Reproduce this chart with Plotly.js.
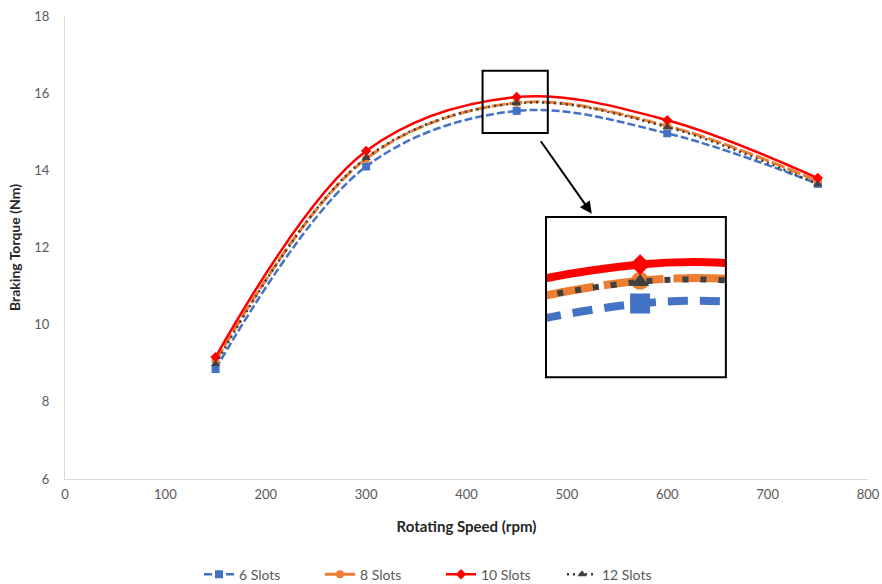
<!DOCTYPE html>
<html>
<head>
<meta charset="utf-8">
<script src="https://cdn.plot.ly/plotly-3.0.1.min.js"></script>
<style>html,body{margin:0;padding:0;background:#fff;}#chart{width:882px;height:584px;}</style>
</head>
<body>
<div id="chart"></div>
<script>
var speeds = [150, 300, 450, 600, 750];
var slots6  = [8.85, 14.10, 15.54, 14.96, 13.65];
var slots8  = [9.05, 14.30, 15.75, 15.15, 13.72];
var slots10 = [9.16, 14.50, 15.90, 15.30, 13.80];
var slots12 = [8.98, 14.32, 15.74, 15.12, 13.64];
var seriesNames = ['6 Slots', '8 Slots', '10 Slots', '12 Slots'];
var xTicks = [0, 100, 200, 300, 400, 500, 600, 700, 800];
var yTicks = [6, 8, 10, 12, 14, 16, 18];
var zoomBox = {x: [416, 481], y: [14.97, 16.58]};
var insetRange = {x: [416, 481], y: [14.86, 16.34]};

var styles = [
  {color:'#4472C4', dash:'8px,3px', w:2.5, sym:'square', ms:8, dashI:'20px,12px', wI:8, msI:20},
  {color:'#ED7D31', dash:'14px,3px', w:3, sym:'circle', ms:8, dashI:'60px,10px', wI:8, msI:18},
  {color:'#FF0000', dash:'solid', w:2.5, sym:'diamond', ms:8, dashI:'solid', wI:8, msI:16},
  {color:'#404040', dash:'2px,4px', w:2.5, sym:'triangle-up', ms:8, dashI:'6px,12px', wI:6, msI:16}
];
var data = [slots6, slots8, slots10, slots12];
var traces = [];
data.forEach(function(vals, i){
  var s = styles[i];
  traces.push({x: speeds, y: vals, name: seriesNames[i], type:'scatter', mode:'lines+markers',
    line:{color:s.color, width:s.w, dash:s.dash, shape:'spline', smoothing:1},
    marker:{symbol:s.sym, size:s.ms, color:s.color}});
});
data.forEach(function(vals, i){
  var s = styles[i];
  traces.push({x: speeds, y: vals, name: seriesNames[i], type:'scatter', mode:'lines+markers',
    xaxis:'x2', yaxis:'y2', showlegend:false, hoverinfo:'skip',
    line:{color:s.color, width:s.wI, dash:s.dashI, shape:'spline', smoothing:1},
    marker:{symbol:s.sym, size:s.msI, color:s.color}});
});

var fam = 'Lato, Open Sans, Liberation Sans, sans-serif';
var tickFont = {family:fam, size:13, color:'#595959'};
var layout = {
  width:882, height:584,
  margin:{l:65, r:14, t:16, b:105, autoexpand:false},
  paper_bgcolor:'#fff', plot_bgcolor:'#fff',
  showlegend:true,
  legend:{orientation:'h', x:0.5, xanchor:'center', xref:'container', yref:'container', y:0.016, yanchor:'middle',
    font:{family:fam, size:14, color:'#595959'}, entrywidth:76, entrywidthmode:'pixels'},
  xaxis:{range:[0,800], tickvals:xTicks, ticktext:xTicks.map(String), showgrid:false, zeroline:false,
    showline:true, linecolor:'#D9D9D9', linewidth:1, ticks:'', tickfont:tickFont, automargin:false,
    ticklabelstandoff:3,
    title:{text:'<b>Rotating Speed (rpm)</b>', font:{family:fam, size:15, color:'#262626'}, standoff:20}},
  yaxis:{range:[6,18], tickvals:yTicks, ticktext:yTicks.map(String), showgrid:false, zeroline:false,
    showline:true, linecolor:'#D9D9D9', linewidth:1, ticks:'', tickfont:tickFont, automargin:false,
    ticklabelstandoff:12,
    title:{text:'<b>Braking Torque (Nm)</b>', font:{family:fam, size:14, color:'#262626'}, standoff:10}},
  xaxis2:{domain:[0.599, 0.823], range:insetRange.x, anchor:'y2', showgrid:false, zeroline:false,
    showline:false, showticklabels:false, ticks:''},
  yaxis2:{domain:[0.220, 0.566], range:insetRange.y, anchor:'x2', showgrid:false, zeroline:false,
    showline:false, showticklabels:false, ticks:''},
  shapes:[
    {type:'rect', xref:'x', yref:'y', x0:zoomBox.x[0], x1:zoomBox.x[1], y0:zoomBox.y[0], y1:zoomBox.y[1],
      line:{color:'#000', width:2}, layer:'above'},
    {type:'rect', xref:'paper', yref:'paper', x0:0.599, x1:0.823, y0:0.220, y1:0.566,
      line:{color:'#000', width:2}, layer:'above'}
  ],
  annotations:[
    {xref:'paper', yref:'paper', x:0.656, y:0.573, ax:-52, ay:-74, showarrow:true,
      arrowhead:2, arrowsize:1.2, arrowwidth:2, arrowcolor:'#000', text:''}
  ]
};
Plotly.newPlot('chart', traces, layout, {displayModeBar:false, staticPlot:true});
</script>
</body>
</html>
